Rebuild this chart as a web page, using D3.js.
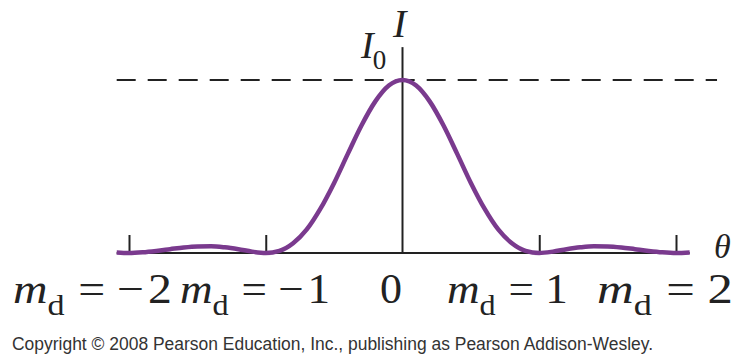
<!DOCTYPE html>
<html><head><meta charset="utf-8">
<script src="https://cdn.jsdelivr.net/npm/d3@7"></script>
<style>body{margin:0;background:#fff}svg{display:block}</style>
</head><body><svg id="c" width="738" height="355"></svg>
<script>
// ---- data ----
const tickValues = [-2, -1, 0, 1, 2];
const tickVars = ["m", "m", "", "m", "m"];
const tickSubs = ["d", "d", "", "d", "d"];
const tickRests = ["=\u00A0\u2212\u200A2", "=\u00A0\u2212\u200A1", "0", "=\u00A01", "=\u00A02"];
const mValues = [-2.09, -2.0, -1.9, -1.8, -1.7, -1.6, -1.5, -1.4, -1.3, -1.2, -1.1, -1.0,
  -0.9, -0.8, -0.7, -0.6, -0.5, -0.4, -0.3, -0.2, -0.1, 0,
  0.1, 0.2, 0.3, 0.4, 0.5, 0.6, 0.7, 0.8, 0.9, 1.0,
  1.1, 1.2, 1.3, 1.4, 1.5, 1.6, 1.7, 1.8, 1.9, 2.0, 2.1];
const intensity = [0.003, 0.0, 0.004, 0.012, 0.022, 0.032, 0.038, 0.039, 0.033, 0.022, 0.008, 0.0,
  0.012, 0.056, 0.136, 0.256, 0.405, 0.573, 0.737, 0.875, 0.968, 1.0,
  0.968, 0.875, 0.737, 0.573, 0.405, 0.256, 0.136, 0.056, 0.012, 0.0,
  0.008, 0.022, 0.033, 0.039, 0.038, 0.032, 0.022, 0.012, 0.004, 0.0, 0.003];
const yAxisLabel = "I";
const peakLabel = "I";
const peakSub = "0";
const xAxisLabel = "\u03B8";
const copyright = "Copyright \u00A9 2008 Pearson Education, Inc., publishing as Pearson Addison-Wesley.";

// ---- drawing ----
const svg = d3.select("#c");
const x = d3.scaleLinear().domain([-2, 2]).range([129, 676]);
const y = d3.scaleLinear().domain([0, 1]).range([253, 80]);
const ink = "#222";
const serif = "'Liberation Serif','Times New Roman',serif";

// dashed I0 line
svg.append("line")
  .attr("x1", x(-2.09)).attr("x2", x(2.3))
  .attr("y1", y(1)).attr("y2", y(1))
  .attr("stroke", ink).attr("stroke-width", 2)
  .attr("stroke-dasharray", "19,12");

// horizontal axis line
svg.append("line")
  .attr("x1", x(-2.09)).attr("x2", x(2.1))
  .attr("y1", y(0)).attr("y2", y(0))
  .attr("stroke", ink).attr("stroke-width", 2);

// ticks via d3 axis
const gx = svg.append("g").attr("transform", `translate(0,${y(0)})`)
  .call(d3.axisBottom(x).tickValues(tickValues).tickSize(-18).tickSizeOuter(0).tickFormat(""));
gx.select(".domain").remove();
gx.selectAll(".tick line").attr("stroke", ink).attr("stroke-width", 2);
gx.selectAll(".tick").filter(d => d === 0).select("line").remove();

// vertical axis
svg.append("line")
  .attr("x1", x(0)).attr("x2", x(0))
  .attr("y1", y(1.19)).attr("y2", y(0))
  .attr("stroke", ink).attr("stroke-width", 2);

// curve
const pts = mValues.map((m, i) => [m, intensity[i]]);
svg.append("path")
  .datum(pts)
  .attr("fill", "none")
  .attr("stroke", "#7a3a8e")
  .attr("stroke-width", 4.5)
  .attr("stroke-linecap", "butt")
  .attr("d", d3.line().x(d => x(d[0])).y(d => y(d[1])).curve(d3.curveMonotoneX));

// axis labels
svg.append("text").attr("x", 393).attr("y", 37)
  .attr("font-family", serif).attr("font-style", "italic").attr("font-size", 40)
  .attr("fill", ink).text(yAxisLabel);
const i0 = svg.append("text").attr("x", 361).attr("y", 58)
  .attr("font-family", serif).attr("fill", ink);
i0.append("tspan").attr("font-style", "italic").attr("font-size", 38).text(peakLabel);
i0.append("tspan").attr("font-size", 27).attr("dy", 11).attr("dx", -1).text(peakSub);

svg.append("text").attr("x", 714).attr("y", 258)
  .attr("font-family", serif).attr("font-style", "italic").attr("font-size", 34)
  .attr("fill", ink).text(xAxisLabel);

// tick labels (layout extents in pixels)
const labelSpans = [[13, 172], [180, 330], [380, 402], [447, 568], [597, 733]];
tickValues.forEach((v, i) => {
  const g = svg.append("g");
  const t = g.append("text").attr("x", 0).attr("y", 0)
    .attr("font-family", serif).attr("fill", ink).attr("font-size", 42);
  if (tickVars[i]) {
    t.append("tspan").attr("font-style", "italic").text(tickVars[i]);
    t.append("tspan").attr("font-size", 30).attr("dy", 12).text(tickSubs[i]);
    t.append("tspan").attr("dy", -12).attr("dx", 12).text(tickRests[i]);
  } else {
    t.append("tspan").text(tickRests[i]);
  }
  const bb = t.node().getBBox();
  const [a, b] = labelSpans[i];
  const sx = (b - a) / bb.width;
  g.attr("transform", `translate(${a - bb.x * sx},303) scale(${sx},1)`);
});

// copyright
svg.append("text").attr("x", 12).attr("y", 350)
  .attr("font-family", "'Liberation Sans',Arial,sans-serif").attr("font-size", 17.5)
  .attr("fill", "#333").attr("textLength", 641).attr("lengthAdjust", "spacingAndGlyphs")
  .text(copyright);
</script>
</body></html>
